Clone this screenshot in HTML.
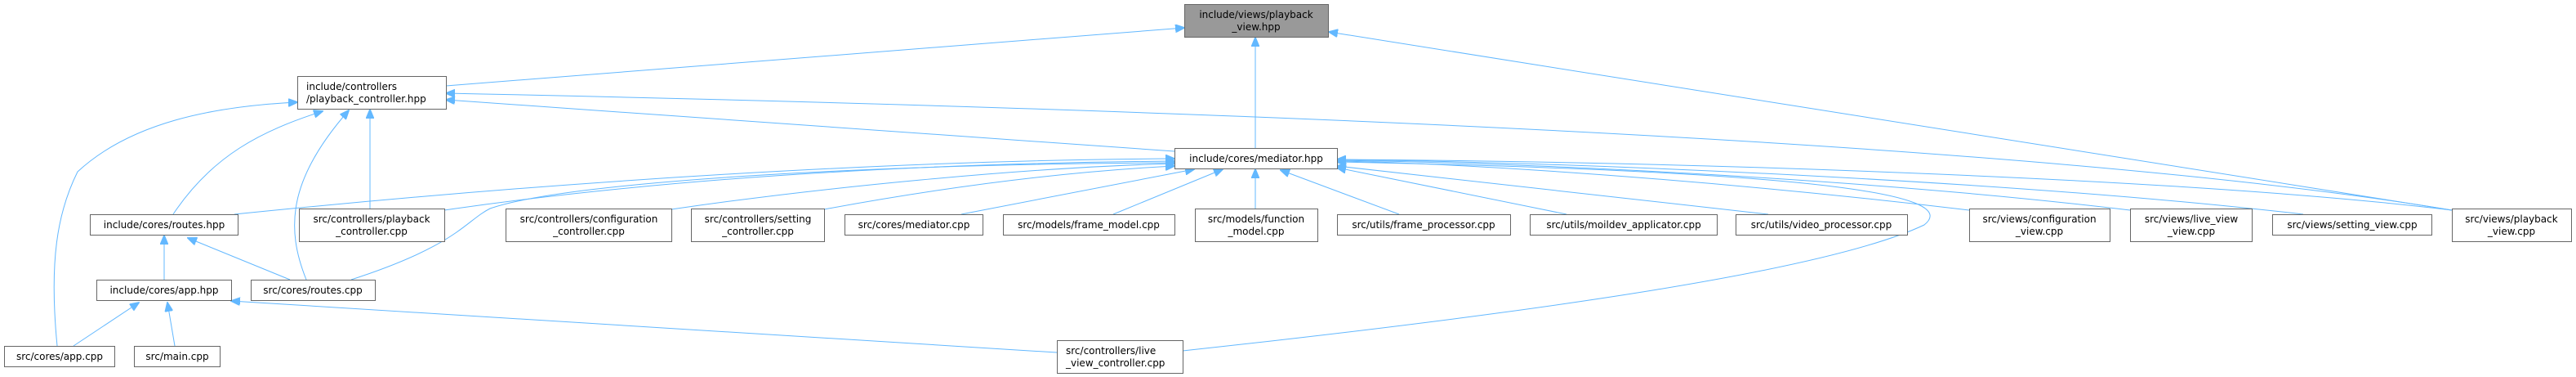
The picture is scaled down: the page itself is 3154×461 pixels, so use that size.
<!DOCTYPE html>
<html><head><meta charset="utf-8"><style>
html,body{margin:0;padding:0;background:#fff;}
svg{display:block;}
text{font-family:"DejaVu Sans","Liberation Sans",sans-serif;font-size:12px;fill:#000;}
.n{fill:#fff;stroke:#666;stroke-width:1;}
.e{fill:none;stroke:#63b8ff;stroke-width:1;marker-end:url(#a);}
</style></head><body>
<svg width="3154" height="461" viewBox="0 0 3154 461" xmlns="http://www.w3.org/2000/svg">
<defs><marker id="a" markerWidth="12" markerHeight="10" refX="11" refY="5" orient="auto" markerUnits="userSpaceOnUse"><path d="M0,0 L12,5 L0,10 z" fill="#63b8ff" stroke="#63b8ff"/></marker></defs>

<!-- edges -->
<path class="e" d="M546,105 L1450,34"/>
<path class="e" d="M1537,181 L1537,46"/>
<path class="e" d="M3002,257 L1627,39"/>
<path class="e" d="M453,255 L453,134"/>
<path class="e" d="M1438,185 L546,122"/>
<path class="e" d="M3002,257 C2600,190 1800,140 546,114"/>
<path class="e" d="M212,262 C260,190 320,160 395,136"/>
<path class="e" d="M375,342 C350,280 352,220 427,135"/>
<path class="e" d="M70,423 C60,320 70,260 95,210 C160,150 260,130 364,125"/>
<path class="e" d="M201,342 L201,288"/>
<path class="e" d="M355,342 L230,291"/>
<path class="e" d="M90,423 L170,370"/>
<path class="e" d="M214,423 L205,370"/>
<path class="e" d="M1294,431 L283,368"/>
<path class="e" d="M287,262 C700,220 1100,196 1438,194"/>
<path class="e" d="M544,257 C800,220 1100,200 1438,197"/>
<path class="e" d="M430,342 C560,300 570,270 600,255 C700,220 1100,200 1438,199"/>
<path class="e" d="M822,256 C1000,230 1250,205 1438,200"/>
<path class="e" d="M1009,256 C1150,230 1300,210 1438,203"/>
<path class="e" d="M1177,262 L1462,207"/>
<path class="e" d="M1363,262 L1497,207"/>
<path class="e" d="M1537,255 L1537,207"/>
<path class="e" d="M1713,262 L1568,208"/>
<path class="e" d="M1918,262 L1637,205"/>
<path class="e" d="M2165,262 L1637,203"/>
<path class="e" d="M1448,429 C1900,380 2240,330 2356,275 C2400,240 2250,210 1637,198"/>
<path class="e" d="M2411,257 C2100,220 1800,200 1637,197"/>
<path class="e" d="M2608,257 C2300,220 1900,200 1637,196"/>
<path class="e" d="M2820,262 C2500,225 2000,200 1637,195"/>
<path class="e" d="M3002,257 C2700,220 2100,198 1637,195"/>

<!-- nodes -->
<rect x="1450.5" y="5.5" width="176" height="40" fill="#999" stroke="#666"/>
<text x="1538" y="22" text-anchor="middle">include/views/playback</text>
<text x="1538" y="37" text-anchor="middle">_view.hpp</text>

<rect class="n" x="364.5" y="93.5" width="182" height="40"/>
<text x="375" y="110">include/controllers</text>
<text x="375" y="125">/playback_controller.hpp</text>

<rect class="n" x="1438.5" y="181.5" width="199" height="25"/>
<text x="1538" y="198" text-anchor="middle">include/cores/mediator.hpp</text>

<rect class="n" x="110.5" y="262.5" width="181" height="25"/>
<text x="201" y="279" text-anchor="middle">include/cores/routes.hpp</text>

<rect class="n" x="366.5" y="255.5" width="178" height="40"/>
<text x="455" y="272" text-anchor="middle">src/controllers/playback</text>
<text x="455" y="287" text-anchor="middle">_controller.cpp</text>

<rect class="n" x="619.5" y="255.5" width="203" height="40"/>
<text x="721" y="272" text-anchor="middle">src/controllers/configuration</text>
<text x="721" y="287" text-anchor="middle">_controller.cpp</text>

<rect class="n" x="846.5" y="255.5" width="163" height="40"/>
<text x="928" y="272" text-anchor="middle">src/controllers/setting</text>
<text x="928" y="287" text-anchor="middle">_controller.cpp</text>

<rect class="n" x="1034.5" y="262.5" width="169" height="25"/>
<text x="1119" y="279" text-anchor="middle">src/cores/mediator.cpp</text>

<rect class="n" x="1228.5" y="262.5" width="210" height="25"/>
<text x="1333" y="279" text-anchor="middle">src/models/frame_model.cpp</text>

<rect class="n" x="1463.5" y="255.5" width="150" height="40"/>
<text x="1538" y="272" text-anchor="middle">src/models/function</text>
<text x="1538" y="287" text-anchor="middle">_model.cpp</text>

<rect class="n" x="1637.5" y="262.5" width="212" height="25"/>
<text x="1743" y="279" text-anchor="middle">src/utils/frame_processor.cpp</text>

<rect class="n" x="1873.5" y="262.5" width="229" height="25"/>
<text x="1988" y="279" text-anchor="middle">src/utils/moildev_applicator.cpp</text>

<rect class="n" x="2125.5" y="262.5" width="210" height="25"/>
<text x="2230" y="279" text-anchor="middle">src/utils/video_processor.cpp</text>

<rect class="n" x="2411.5" y="255.5" width="172" height="40"/>
<text x="2497" y="272" text-anchor="middle">src/views/configuration</text>
<text x="2497" y="287" text-anchor="middle">_view.cpp</text>

<rect class="n" x="2608.5" y="255.5" width="149" height="40"/>
<text x="2683" y="272" text-anchor="middle">src/views/live_view</text>
<text x="2683" y="287" text-anchor="middle">_view.cpp</text>

<rect class="n" x="2782.5" y="262.5" width="195" height="25"/>
<text x="2880" y="279" text-anchor="middle">src/views/setting_view.cpp</text>

<rect class="n" x="3002.5" y="255.5" width="146" height="40"/>
<text x="3075" y="272" text-anchor="middle">src/views/playback</text>
<text x="3075" y="287" text-anchor="middle">_view.cpp</text>

<rect class="n" x="118.5" y="342.5" width="165" height="25"/>
<text x="201" y="359" text-anchor="middle">include/cores/app.hpp</text>

<rect class="n" x="307.5" y="342.5" width="152" height="25"/>
<text x="383" y="359" text-anchor="middle">src/cores/routes.cpp</text>

<rect class="n" x="5.5" y="423.5" width="135" height="25"/>
<text x="73" y="440" text-anchor="middle">src/cores/app.cpp</text>

<rect class="n" x="164.5" y="423.5" width="105" height="25"/>
<text x="217" y="440" text-anchor="middle">src/main.cpp</text>

<rect class="n" x="1294.5" y="416.5" width="154" height="40"/>
<text x="1305" y="433">src/controllers/live</text>
<text x="1305" y="448">_view_controller.cpp</text>
</svg>
</body></html>
